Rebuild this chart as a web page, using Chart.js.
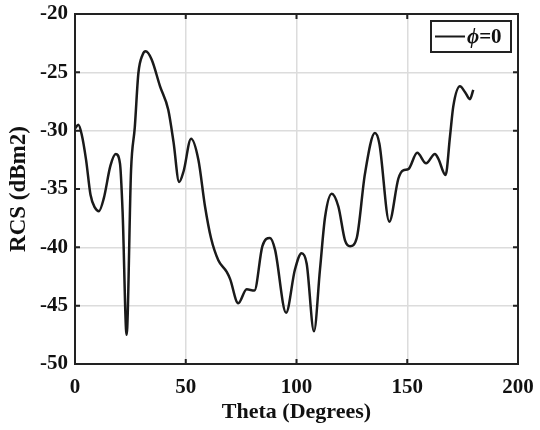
<!DOCTYPE html>
<html lang="en">
<head>
    <meta charset="UTF-8">
    <title>RCS vs Theta</title>
    <script src="https://cdn.jsdelivr.net/npm/chart.js"></script>
    <style>
        html, body { margin: 0; padding: 0; background: #fff; }
        #wrap { width: 540px; height: 430px; }
    </style>
</head>
<body>
    <div id="wrap"><canvas id="chart" width="540" height="430"></canvas></div>

    <script>
        // data
        const theta = [0, 1.5, 3, 5, 7, 9, 10.8, 13, 16, 18.4, 20.3, 21.5, 23.3, 25.3, 27, 28.6, 30.5, 31.9, 34.6, 38.4,
            42.1, 44.5, 47, 49, 52.4, 55.7, 58.7, 61.4, 64.7, 68.5, 70, 73.7, 77.5, 81, 84.6, 88, 90.3, 95.3, 99.3, 102.3,
            104.6, 107.9, 110.6, 112.9, 115.9, 118.9, 121.9, 124.2, 127.2, 130.9, 135.4, 137.4, 141.9, 146, 148.2, 150.5,
            154.5, 158.5, 162.5, 164, 167.3, 169.3, 170.8, 173.8, 176.1, 178.3, 179.8];
        const rcs = [-29.8, -29.5, -30.3, -32.5, -35.5, -36.6, -36.9, -35.8, -33, -32.0, -32.8, -37, -47.5, -33.4, -29.7, -25.1, -23.5, -23.2, -23.9, -26.2,
            -28.2, -31, -34.4, -33.5, -30.7, -32.5, -36.5, -39.2, -41.1, -42.1, -42.7, -44.8, -43.6, -43.7, -39.9, -39.2, -40.2, -45.6, -41.9, -40.5,
            -41.4, -47.2, -41.9, -37.4, -35.4, -36.5, -39.4, -39.9, -39.2, -33.7, -30.2, -31.1, -37.8, -34.1, -33.4, -33.3,
            -31.9, -32.8, -32.0, -32.4, -33.8, -30.5, -27.9, -26.2, -26.7, -27.3, -26.5];
        const xTicks = [0, 50, 100, 150, 200];
        const yTicks = [-50, -45, -40, -35, -30, -25, -20];
        const seriesName = "=0";

        const fontFam = "'Liberation Serif', 'Times New Roman', serif";

        // box, inner ticks and legend like the matlab figure
        const boxPlugin = {
            id: "box",
            afterDraw(chart) {
                const ctx = chart.ctx;
                const a = chart.chartArea;
                const xs = chart.scales.x, ys = chart.scales.y;
                ctx.save();
                ctx.strokeStyle = "#222";
                ctx.lineWidth = 2;
                ctx.beginPath();
                xTicks.forEach(v => {
                    const px = xs.getPixelForValue(v);
                    ctx.moveTo(px, a.bottom); ctx.lineTo(px, a.bottom - 5);
                    ctx.moveTo(px, a.top); ctx.lineTo(px, a.top + 5);
                });
                yTicks.forEach(v => {
                    const py = ys.getPixelForValue(v);
                    ctx.moveTo(a.left, py); ctx.lineTo(a.left + 5, py);
                    ctx.moveTo(a.right, py); ctx.lineTo(a.right - 5, py);
                });
                ctx.stroke();
                ctx.strokeRect(a.left, a.top, a.right - a.left, a.bottom - a.top);

                // legend
                const lx = a.right - 87, ly = a.top + 7, lw = 80, lh = 31;
                ctx.fillStyle = "#fff";
                ctx.fillRect(lx, ly, lw, lh);
                ctx.strokeRect(lx, ly, lw, lh);
                ctx.strokeStyle = "#1a1a1a";
                ctx.lineWidth = 2;
                ctx.beginPath();
                ctx.moveTo(lx + 4, ly + lh / 2);
                ctx.lineTo(lx + 34, ly + lh / 2);
                ctx.stroke();
                ctx.fillStyle = "#111";
                ctx.textBaseline = "middle";
                ctx.font = "italic bold 21px " + fontFam;
                ctx.fillText("\u03d5", lx + 36, ly + lh / 2 + 1);
                const w = ctx.measureText("\u03d5").width;
                ctx.font = "bold 21px " + fontFam;
                ctx.fillText(seriesName, lx + 36 + w, ly + lh / 2 + 1);
                ctx.restore();
            }
        };

        new Chart(document.getElementById("chart"), {
            type: "line",
            data: {
                datasets: [{
                    label: "\u03d5=0",
                    data: theta.map((t, i) => ({ x: t, y: rcs[i] })),
                    borderColor: "#1a1a1a",
                    borderWidth: 2.5,
                    pointRadius: 0,
                    cubicInterpolationMode: "monotone",
                    fill: false
                }]
            },
            options: {
                responsive: false,
                animation: false,
                layout: { padding: { top: 14, right: 22, left: 0, bottom: 0 } },
                plugins: { legend: { display: false }, tooltip: { enabled: false } },
                scales: {
                    x: {
                        type: "linear",
                        min: 0, max: 200,
                        afterBuildTicks: s => { s.ticks = xTicks.map(v => ({ value: v })); },
                        afterFit: s => { s.height = 66; s.paddingLeft = 0; s.paddingRight = 0; },
                        grid: { color: "#dcdcdc", lineWidth: 1.5, drawTicks: false },
                        border: { display: false },
                        ticks: { color: "#111", padding: 11, font: { family: fontFam, size: 21, weight: "bold" } },
                        title: { display: true, text: "Theta (Degrees)", color: "#111", padding: { top: 0, bottom: 4 },
                            font: { family: fontFam, size: 22, weight: "bold" } }
                    },
                    y: {
                        min: -50, max: -20,
                        afterBuildTicks: s => { s.ticks = yTicks.map(v => ({ value: v })); },
                        afterFit: s => { s.width = 75; s.paddingTop = 0; s.paddingBottom = 0; },
                        grid: { color: "#dcdcdc", lineWidth: 1.5, drawTicks: false },
                        border: { display: false },
                        ticks: { color: "#111", padding: 7, font: { family: fontFam, size: 21, weight: "bold" } },
                        title: { display: true, text: "RCS (dBm2)", color: "#111", padding: { top: 5, bottom: 0 },
                            font: { family: fontFam, size: 23, weight: "bold" } }
                    }
                }
            },
            plugins: [boxPlugin]
        });
    </script>
</body>
</html>
